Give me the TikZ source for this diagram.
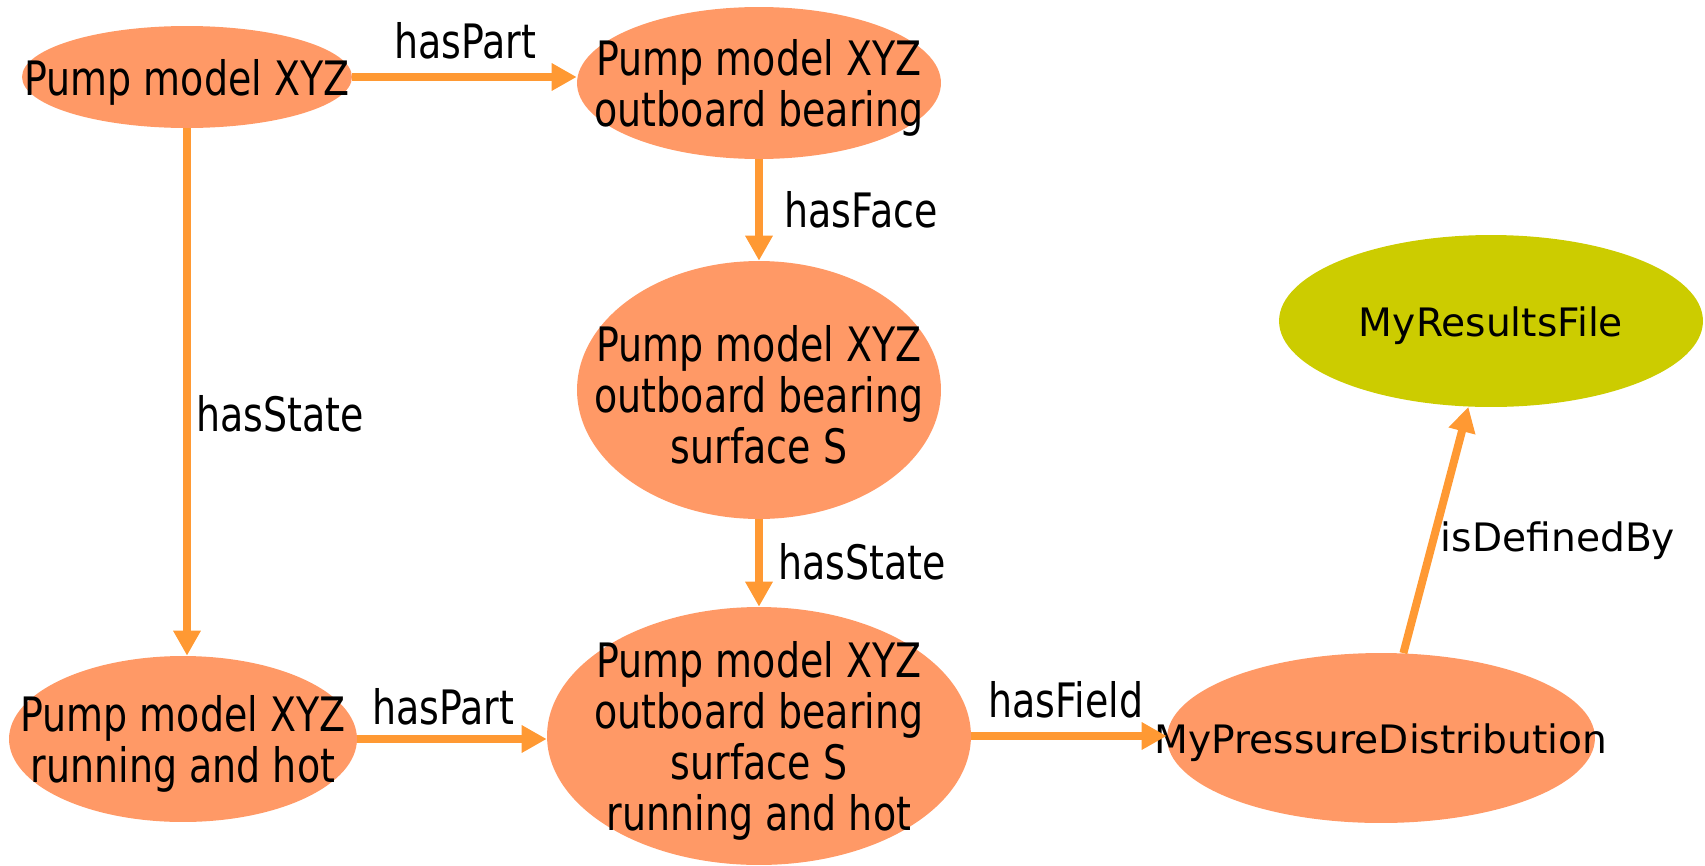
\documentclass[tikz,border=0pt]{standalone}
\usepackage{fontspec}
\setmainfont{DejaVu Sans}
\newfontfamily\narrowfont{DejaVu Sans}[FakeStretch=0.8]
\usetikzlibrary{arrows.meta, shapes.geometric}
\definecolor{NodeSalmon}{HTML}{FF9966}
\definecolor{ArrowOrange}{HTML}{FF9933}
\definecolor{FileOlive}{HTML}{CCCC00}
\tikzset{
  ontnode/.style={ellipse, fill=NodeSalmon, inner sep=0pt},
  filenode/.style={ellipse, fill=FileOlive, inner sep=0pt},
  nodetext/.style={align=center, font=\narrowfont\fontsize{27}{29}\selectfont, inner sep=0pt, yshift=-0.1cm},
  plaintext/.style={align=center, font=\fontsize{22.3}{26}\selectfont, inner sep=0pt},
  rellabel/.style={font=\narrowfont\fontsize{27}{29}\selectfont, inner sep=0pt},
  relarrow/.style={-{Triangle[length=0.5cm, width=0.52cm]}, line width=0.16cm, draw=ArrowOrange}
}

\begin{document}
\begin{tikzpicture}[x=0.02cm, y=-0.02cm]
\useasboundingbox (0,0) rectangle (1705,866);

\node[ontnode, minimum width=6.6cm, minimum height=2.04cm,
  label={[nodetext]center:Pump model XYZ}] (pump) at (187,77) {};
\node[ontnode, minimum width=7.28cm, minimum height=3.04cm,
  label={[nodetext]center:{Pump model XYZ\\outboard bearing}}] (bearing) at (759,83) {};
\node[ontnode, minimum width=7.28cm, minimum height=5.16cm,
  label={[nodetext]center:{Pump model XYZ\\outboard bearing\\surface S}}] (surface) at (759,390) {};
\node[ontnode, minimum width=8.48cm, minimum height=5.16cm,
  label={[nodetext]center:{Pump model XYZ\\outboard bearing\\surface S\\running and hot}}] (surfhot) at (759,736) {};
\node[ontnode, minimum width=6.96cm, minimum height=3.32cm,
  label={[nodetext]center:{Pump model XYZ\\running and hot}}] (pumphot) at (183,739) {};
\node[ontnode, minimum width=8.56cm, minimum height=3.4cm,
  label={[plaintext, yshift=-0.1cm]center:MyPressureDistribution}] (pressure) at (1381,738) {};
\node[filenode, minimum width=8.48cm, minimum height=3.44cm,
  label={[plaintext, yshift=-0.1cm]center:MyResultsFile}] (results) at (1491,321) {};

\node[rellabel] (partA) at (465,41) {hasPart};
\node[rellabel] (stateA) at (280,414) {hasState};
\node[rellabel] (face) at (861,210) {hasFace};
\node[rellabel] (stateB) at (862,562) {hasState};
\node[rellabel] (partB) at (443,707) {hasPart};
\node[rellabel] (field) at (1066,700) {hasField};
\node[plaintext] (defined) at (1558,541) {isDefinedBy};

\draw[relarrow] (pump.east) -- (pump.east -| bearing.west);
\draw[relarrow] (pump.south) -- (pump.south |- pumphot.north);
\draw[relarrow] (bearing) -- (surface);
\draw[relarrow] (surface) -- (surfhot);
\draw[relarrow] (pumphot.east) -- (pumphot.east -| surfhot.west);
\draw[relarrow] (surfhot.east) -- (surfhot.east -| pressure.west);
\draw[relarrow] (pressure) -- (results);
\end{tikzpicture}
\end{document}
